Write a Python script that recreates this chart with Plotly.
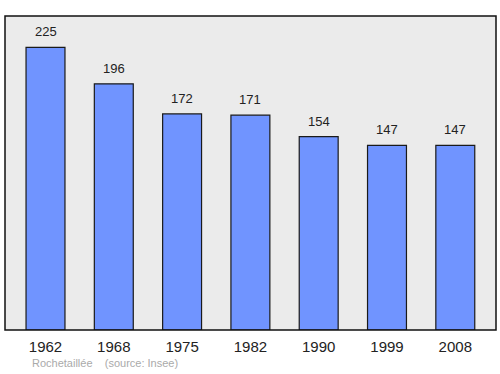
import plotly.graph_objects as go

years = ["1962", "1968", "1975", "1982", "1990", "1999", "2008"]
population = [225, 196, 172, 171, 154, 147, 147]
commune = "Rochetaillée"
source = "(source: Insee)"

fig = go.Figure()
fig.add_trace(go.Bar(
    x=list(range(len(years))), y=population,
    width=0.57,
    marker=dict(color="#7094ff", line=dict(color="#1a1a1a", width=1.2)),
    hoverinfo="skip",
))
for i, v in enumerate(population):
    fig.add_annotation(x=i, y=v, text=str(v), showarrow=False, yanchor="bottom",
                       yshift=6, font=dict(family="Liberation Sans, Arial", size=13, color="#222"))

fig.add_shape(type="rect", xref="paper", yref="paper", x0=0, y0=0, x1=1, y1=1,
              line=dict(color="#111", width=1.5), layer="above")

fig.add_annotation(xref="paper", yref="paper", x=0.05, y=-0.08, xanchor="left", yanchor="top",
                   text=commune + "&nbsp;&nbsp;&nbsp;&nbsp;" + source, showarrow=False,
                   font=dict(family="Liberation Sans, Arial", size=11, color="#aaaaaa"))

fig.update_layout(
    width=500, height=374,
    margin=dict(l=5, r=4, t=16, b=44),
    plot_bgcolor="#ebebeb", paper_bgcolor="white",
    showlegend=False,
    xaxis=dict(range=[-0.593, 6.596], tickvals=list(range(len(years))), ticktext=years,
               showgrid=False, zeroline=False, ticks="", showline=False,
               ticklabelstandoff=6,
               tickfont=dict(family="Liberation Sans, Arial", size=15, color="#222")),
    yaxis=dict(range=[0, 250], showgrid=False, zeroline=False, showticklabels=False, ticks=""),
)
fig.write_html("out.html")
